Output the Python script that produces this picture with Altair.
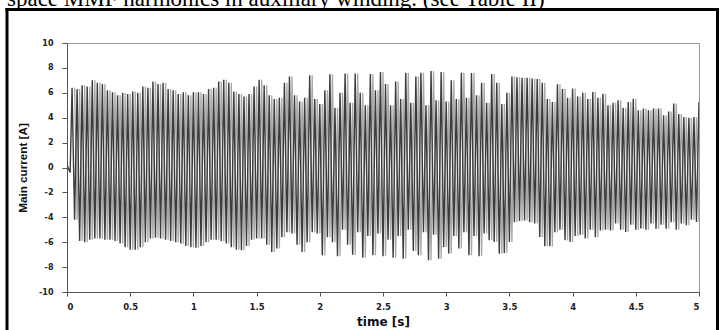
import altair as alt
import pandas as pd

caption = "space MMF harmonics in auxiliary winding. (see Table II)"
x_title = "time [s]"
y_title = "Main current [A]"
x_ticks = [0, 0.5, 1, 1.5, 2, 2.5, 3, 3.5, 4, 4.5, 5]
y_ticks = [-10, -8, -6, -4, -2, 0, 2, 4, 6, 8, 10]

# start of trace before the first full swing
start_t = [0.0, 0.025]
start_v = [0.2, -0.4]

# cycle period used to place the read peaks (s)
period = 0.04
first_peak_t = 0.04

# positive peaks, one per cycle (t = 0.04, 0.08, ... 5.00)
upper_peaks = [
    6.4, 6.3, 6.6, 6.5, 7.0, 6.8, 6.7, 6.2, 6.05, 5.8, 6.0, 5.9, 6.1,
    6.0, 6.5, 6.4, 6.9, 6.7, 6.8, 6.3, 6.2, 5.9, 6.05, 5.8, 6.05,
    6.05, 5.9, 6.3, 6.4, 6.9, 7.05, 6.8, 6.1, 5.9, 5.7, 5.9, 6.5, 7.05,
    6.6, 5.8, 5.5, 5.6, 6.8, 7.3, 5.8, 5.3, 5.6, 7.4, 5.5, 5.1,
    6.2, 7.48, 4.8, 6.0, 7.55, 5.2, 7.55, 6.0, 5.0, 7.5, 6.2, 7.67, 6.7,
    5.0, 6.9, 5.5, 7.6, 5.2, 7.3, 7.6, 5.0, 7.75, 5.4, 7.67, 5.3,
    7.0, 5.5, 7.6, 5.6, 7.58, 5.8, 6.8, 5.2, 7.5, 6.8, 5.1, 6.0, 7.3,
    7.25, 7.2, 7.2, 7.15, 7.1, 6.8, 5.5, 5.26, 6.68, 6.3, 5.6, 6.34,
    5.7, 6.0, 5.5, 6.07, 5.6, 5.93, 5.0, 5.2, 5.4, 4.8, 5.26, 5.53, 4.6,
    4.73, 4.6, 4.73, 4.73, 4.2, 4.5, 5.13, 4.3, 4.06, 4.0, 4.06, 5.26,
]

# negative peaks, one per cycle (t = 0.06, 0.10, ... 4.98)
lower_peaks = [
    -4.2, -5.9, -6.0, -5.8, -5.7, -5.7, -5.8, -5.8, -5.9, -6.1, -6.4, -6.6,
    -6.6, -6.4, -6.0, -5.7, -5.65, -5.7, -5.8, -5.9, -6.0, -6.1, -6.3, -6.4, -6.45,
    -6.3, -6.0, -5.8, -5.8, -5.9, -6.1, -6.4, -6.6, -6.65, -6.3, -5.8, -5.7,
    -5.7, -6.2, -6.78, -6.5, -5.6, -5.2, -5.3, -6.2, -6.78, -6.0, -5.2, -5.3, -7.05,
    -5.6, -6.0, -7.13, -5.0, -6.2, -7.0, -5.2, -7.24, -5.5, -7.05, -5.3, -7.13,
    -5.8, -7.24, -5.5, -7.32, -5.0, -6.7, -7.05, -5.2, -7.45, -5.4, -7.32, -6.38, -6.9,
    -5.5, -6.5, -5.2, -7.05, -5.5, -7.13, -5.3, -5.85, -5.98, -6.92, -6.87, -5.98,
    -4.4, -4.3, -4.25, -4.4, -4.5, -5.58, -6.33, -6.33, -5.2, -5.0, -5.85, -5.98, -5.5,
    -5.4, -5.7, -5.0, -5.6, -5.05, -5.0, -5.05, -4.5, -5.0, -5.18, -4.6, -5.0,
    -4.9, -5.0, -4.5, -4.92, -4.6, -4.92, -4.4, -5.0, -4.5, -4.64, -4.2, -4.37,
]

rows = [{"t": t, "i": v} for t, v in zip(start_t, start_v)]
for k, up in enumerate(upper_peaks):
    rows.append({"t": round(first_peak_t + period * k, 4), "i": up})
    if k < len(lower_peaks):
        rows.append({"t": round(first_peak_t + period * k + period / 2, 4), "i": lower_peaks[k]})
df = pd.DataFrame(rows)

FONT = "DejaVu Sans"
x_scale = alt.Scale(domain=[0, 5], nice=False, zero=False)
y_scale = alt.Scale(domain=[-10, 10], nice=False)

x_axis = alt.Axis(
    title=x_title, values=x_ticks, labelExpr="toString(datum.value)", grid=False,
    tickSize=4, labelPadding=6, titlePadding=6, labelOverlap=False,
    labelFontSize=8.5, titleFontSize=12, titleFont=FONT,
)
y_axis = alt.Axis(
    title=y_title, values=y_ticks, labelExpr="toString(datum.value)", grid=False,
    tickSize=5, labelPadding=9, titlePadding=10, labelOverlap=False,
    labelFontSize=8, titleFontSize=11.7, titleFont="Liberation Sans",
)

# lighter strokes of the printed trace (same peaks, drawn half a cycle later)
line_light = alt.Chart(df).transform_filter(
    alt.datum.t > 0.03
).transform_calculate(
    t2=f"datum.t + {period / 2}"
).transform_filter(
    alt.datum.t2 <= 5
).mark_line(color="#a8a8a8", strokeWidth=1.3, clip=True).encode(
    x=alt.X("t2:Q", scale=x_scale, axis=x_axis),
    y=alt.Y("i:Q", scale=y_scale, axis=y_axis),
)

line = alt.Chart(df).mark_line(color="#3c3c3c", strokeWidth=1.4, clip=True).encode(
    x=alt.X("t:Q", scale=x_scale, axis=x_axis),
    y=alt.Y("i:Q", scale=y_scale, axis=y_axis),
)

one = pd.DataFrame({"label": [caption]})

left_bar = alt.Chart(one).mark_rule(color="black", strokeWidth=3).encode(
    x=alt.value(-60), y=alt.value(-35), y2=alt.value(300)
)
right_bar = alt.Chart(one).mark_rule(color="black", strokeWidth=3).encode(
    x=alt.value(650.5), y=alt.value(-35), y2=alt.value(300)
)
top_bar = alt.Chart(one).mark_rule(color="black", strokeWidth=3).encode(
    x=alt.value(-61.5), x2=alt.value(652), y=alt.value(-33.5)
)
cap = alt.Chart(one).mark_text(
    font="Liberation Serif", fontSize=23, align="left", baseline="alphabetic", color="black"
).encode(text="label:N", x=alt.value(-60), y=alt.value(-37))

chart = alt.layer(line_light, line, left_bar, right_bar, top_bar, cap).properties(
    width=632,
    height=249,
    autosize="none",
    padding={"left": 67, "top": 43, "right": 26, "bottom": 38},
    background="white",
).configure_view(stroke="#999", strokeWidth=1).configure_axis(
    domainColor="#555", tickColor="#555", labelFont=FONT, labelFontWeight="bold",
    labelColor="#222", titleFontWeight="bold", titleColor="#111",
)

chart.save("out.html", embed_options={"renderer": "svg", "actions": False})
